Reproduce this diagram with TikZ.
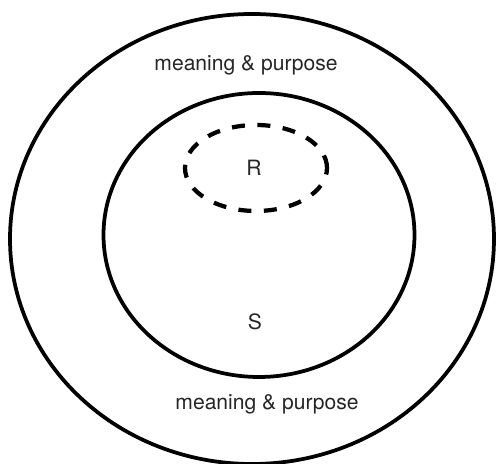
\documentclass[tikz,border=0pt]{standalone}
\usepackage{fontspec}
\setmainfont{TeX Gyre Heros}
\usetikzlibrary{shapes.geometric}

\begin{document}
\begin{tikzpicture}[every node/.style={font=\fontsize{12}{14}\selectfont, text=black!85}]
        \useasboundingbox (0,0) rectangle (9.92,-9.28);

        \node[draw,ellipse,line width=0.075cm,minimum width=9.68cm,minimum height=9.0cm] (outer) at (5.04,-4.78) {};
        \node[draw,ellipse,line width=0.075cm,minimum width=6.22cm,minimum height=5.68cm] (inner) at (5.18,-4.70) {};
        \node[draw,ellipse,line width=0.085cm,dash pattern=on 0.26cm off 0.25cm,minimum width=2.84cm,minimum height=1.72cm] (rset) at (5.12,-3.36) {};

        \node (r) at (5.08,-3.36) {R};
        \node (s) at (5.10,-6.44) {S};
        \node (top) at (4.92,-1.30) {meaning \& purpose};
        \node (bottom) at (5.34,-8.08) {meaning \& purpose};
    \end{tikzpicture}
\end{document}
